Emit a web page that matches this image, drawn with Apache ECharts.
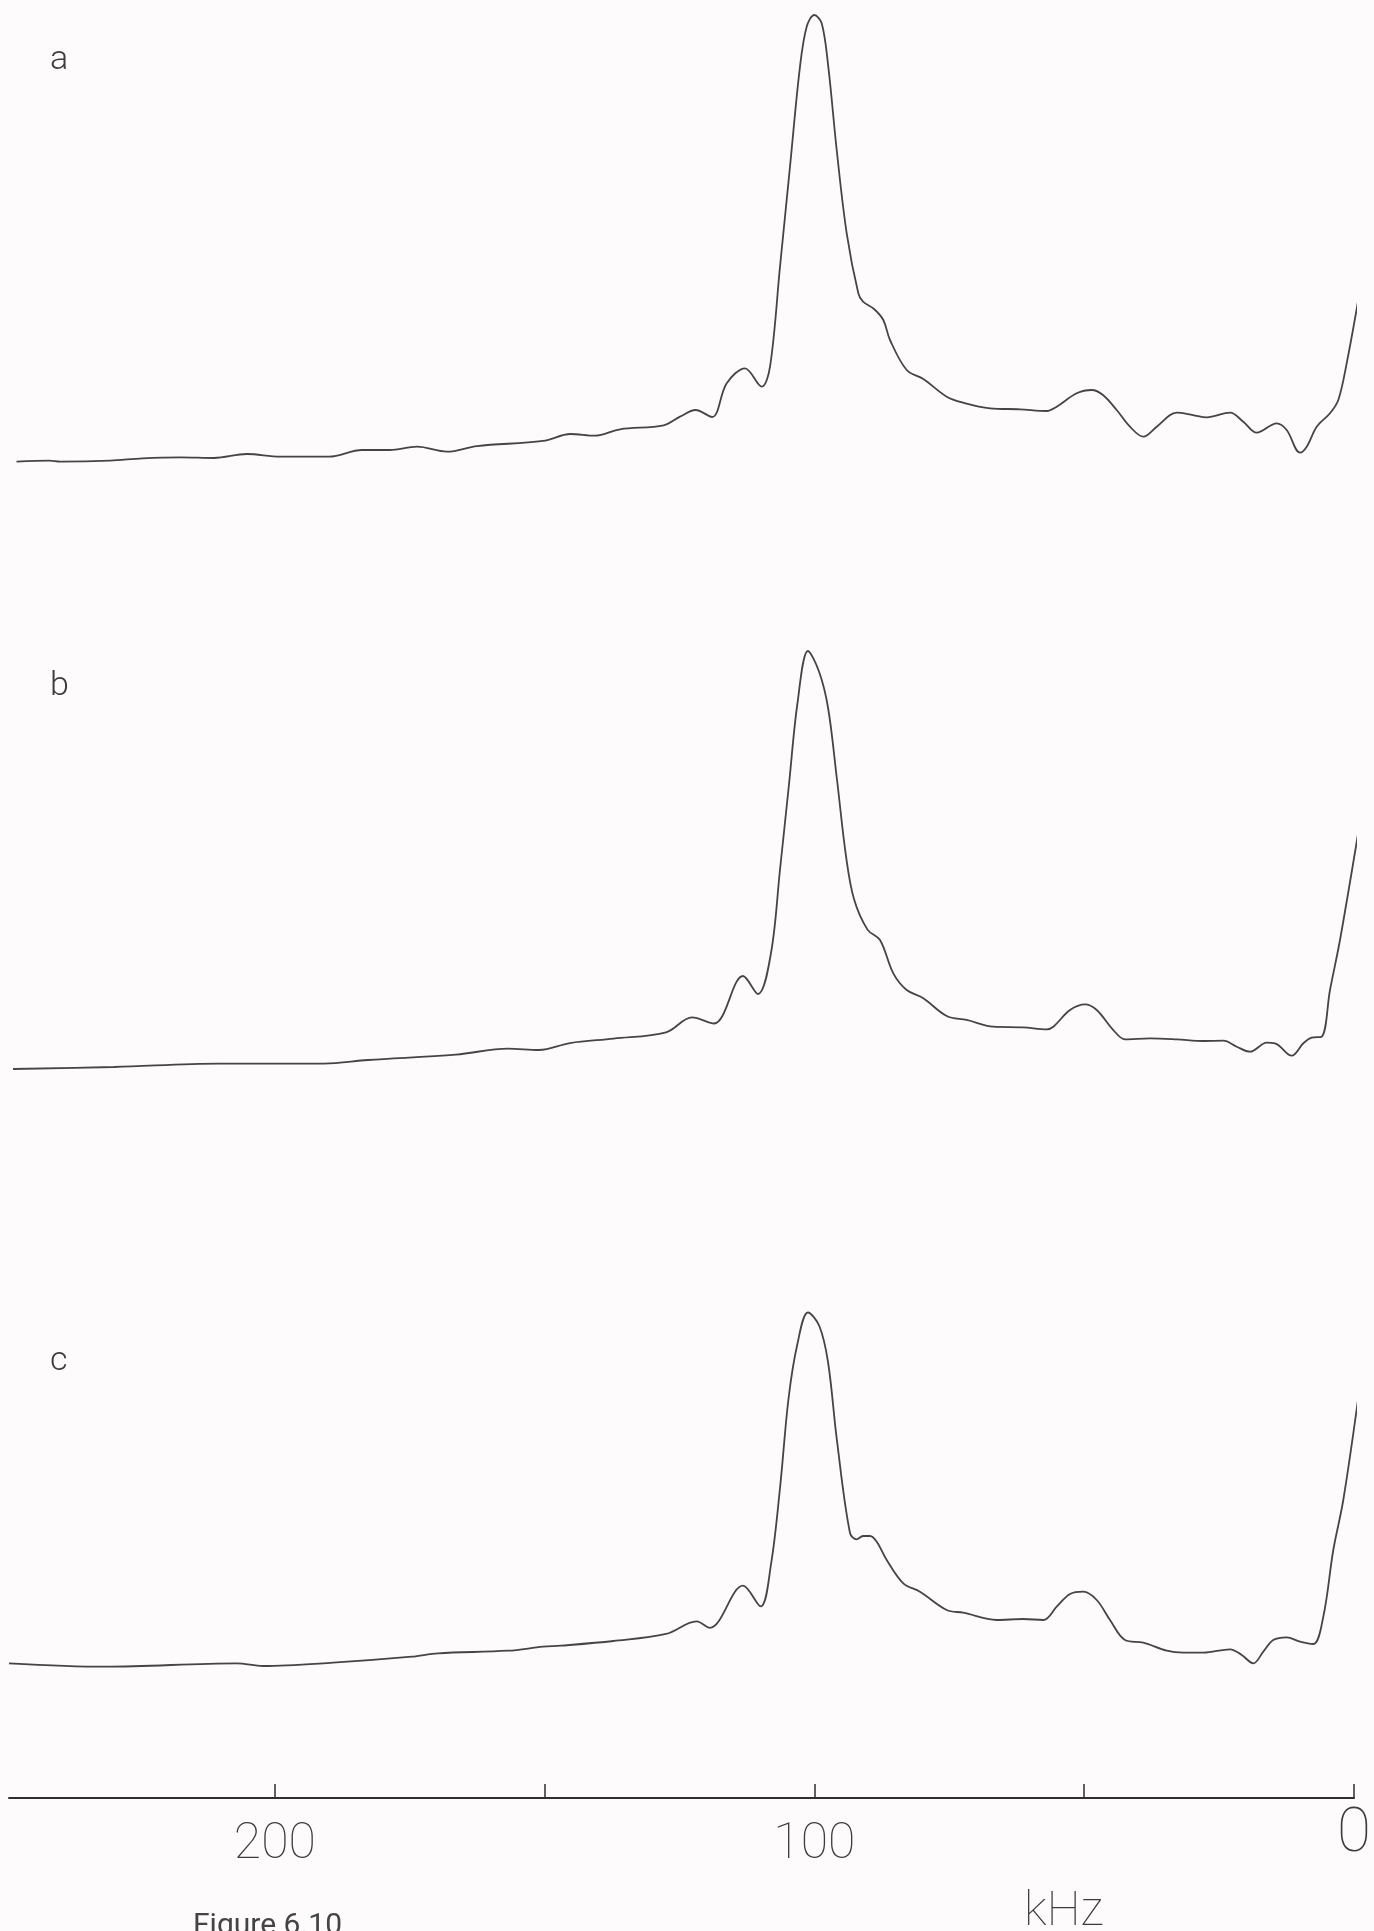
<!DOCTYPE html>
<html>
<head>
<meta charset="utf-8">
<script src="https://cdn.jsdelivr.net/npm/echarts@6/dist/echarts.min.js"></script>
<style>
  html, body { margin: 0; padding: 0; background: #fdfbfc; }
  #chart { width: 1374px; height: 1931px; }
</style>
</head>
<body>
<div id="chart"></div>
<script>
// Frequency (kHz) and relative intensity
const specA_kHz = [247.87,241.78,239.81,230.56,224.52,217.41,211.30,205.19,199.07,190.00,183.89,178.80,173.70,168.15,162.59,150.37,145.28,140.74,136.11,128.02,125.00,122.11,119.07,116.35,112.96,109.87,108.33,106.48,104.63,102.78,101.54,100.13,98.76,97.54,95.98,94.13,91.98,91.11,89.07,87.35,86.11,83.02,79.94,75.61,72.59,67.59,62.04,57.09,55.24,51.54,48.76,46.67,44.13,41.67,39.20,36.72,33.02,30.00,27.46,23.15,20.69,18.20,14.50,12.65,10.19,8.94,7.09,4.63,3.09,1.54,-0.93];
const specA_int = [0.96,1.18,0.96,1.18,1.71,1.93,1.78,2.67,2.07,2.07,3.56,3.56,4.29,3.18,4.44,5.56,7.11,6.73,8.16,9.04,10.96,12.44,10.89,18.38,21.71,17.62,22.07,44.29,66.51,88.73,97.62,100.22,98.38,88.73,70.22,51.71,38.38,36.51,34.89,32.44,28.0,21.33,19.33,15.4,14.07,12.82,12.6,12.22,13.18,16.16,16.89,15.78,12.44,8.73,6.51,8.73,11.84,11.33,10.82,11.84,9.84,7.4,9.49,8.0,2.96,4.29,8.73,11.71,14.67,22.82,39.11];

const specB_kHz = [248.52,229.81,210.37,190.93,182.78,166.48,156.85,151.11,145.37,137.31,127.59,122.78,118.70,113.33,110.56,108.15,106.48,104.81,103.24,101.30,99.26,97.59,95.93,94.26,92.78,90.28,87.96,85.50,83.02,79.94,75.61,71.91,66.98,61.43,57.09,55.87,52.78,50.00,47.83,44.76,42.59,37.96,33.02,28.09,24.39,21.91,19.44,16.35,14.81,11.72,9.57,8.02,6.17,4.63,2.78,-0.65];
const specB_int = [0.67,1.11,1.87,1.87,2.67,3.87,5.2,4.89,6.44,7.42,8.8,12.13,10.78,21.33,17.33,26.44,45.0,64.0,82.0,93.56,89.0,81.0,65.0,48.0,38.44,31.64,29.33,21.93,18.22,16.38,12.44,11.56,10.07,9.93,9.49,10.07,13.78,15.04,13.78,9.33,7.27,7.49,7.27,6.89,6.96,5.62,4.51,6.51,6.38,3.62,6.38,7.62,7.84,18.22,29.33,53.56];

const specC_kHz = [249.26,231.48,207.11,202.22,189.26,174.67,169.81,156.85,150.37,147.04,137.33,127.59,121.93,119.48,113.33,110.07,108.15,106.48,104.89,103.26,101.30,99.20,97.59,95.96,93.52,92.28,91.11,89.81,88.57,86.72,83.65,80.56,75.61,72.54,66.35,61.43,57.72,55.24,52.78,50.31,47.83,45.37,42.59,39.20,34.87,31.80,28.09,23.15,20.98,18.83,16.98,15.13,12.65,10.19,7.72,5.87,4.02,2.17,-0.65];
const specC_int = [1.04,0.29,1.04,0.44,1.18,2.51,3.27,3.84,4.73,4.96,6.0,7.56,10.36,8.91,18.29,13.69,23.04,40.0,60.0,72.0,79.0,76.0,68.0,50.82,30.0,28.6,29.33,29.33,28.07,24.0,18.82,16.96,12.89,12.29,10.67,10.89,10.67,13.62,16.44,16.96,15.11,10.67,6.22,5.62,3.84,3.4,3.4,4.16,2.89,1.04,3.62,6.22,6.82,5.84,5.33,11.4,26.22,37.33,60.44];

const panelLabels = ['a', 'b', 'c'];
const tickValues = [0, 50, 100, 150, 200];
const labelValues = [0, 100, 200];
const axisName = 'kHz';
const captionText = 'Figure 6.10';

function pairs(xs, ys) { return xs.map((x, i) => [x, ys[i]]); }

const X_MAX = 249.26;
const ink = '#3c3c3c';
const gridTops = [2.5, 608.5, 1204.5];
const grids = gridTops.map(t => ({ left: 9, right: 19, top: t, height: 477 }));
grids.push({ left: 9, right: 19, top: 1700, height: 98 });

const xAxes = [0, 1, 2].map(i => ({
  type: 'value', gridIndex: i, min: 0, max: X_MAX, inverse: true, show: false
}));
xAxes.push({
  type: 'value', gridIndex: 3, min: 0, max: X_MAX, inverse: true, interval: 50,
  axisLine: { show: true, lineStyle: { color: '#2f2f2f', width: 2 } },
  axisTick: { show: true, inside: true, length: 14, customValues: tickValues,
              lineStyle: { color: '#2f2f2f', width: 1.5 } },
  axisLabel: {
    show: true, customValues: labelValues, margin: 22,
    formatter: v => (v === 0 ? '{big|0}' : '{n|' + v + '}'),
    rich: {
      n: { fontFamily: 'Roboto', fontWeight: 100, fontSize: 50, lineHeight: 50, color: ink },
      big: { fontFamily: 'Roboto', fontWeight: 100, fontSize: 62, lineHeight: 30, color: ink }
    }
  },
  splitLine: { show: false }
});

const yAxes = [0, 1, 2].map(i => ({
  type: 'value', gridIndex: i, min: -3, max: 103, show: false
}));
yAxes.push({ type: 'value', gridIndex: 3, min: 0, max: 1, show: false });

const specs = [pairs(specA_kHz, specA_int), pairs(specB_kHz, specB_int), pairs(specC_kHz, specC_int)];
const series = specs.map((d, i) => ({
  type: 'line', xAxisIndex: i, yAxisIndex: i, data: d,
  showSymbol: false, smooth: 0.35, clip: false,
  lineStyle: { color: '#454545', width: 1.8 }
}));

const letterTops = [43, 669, 1344];
const titles = panelLabels.map((t, i) => ({
  text: t, left: 50, top: letterTops[i], padding: 0,
  textStyle: { fontFamily: 'Roboto', fontWeight: 300, fontSize: 34, color: ink }
}));
titles.push({
  text: axisName, left: 1024, top: 1889, padding: 0,
  textStyle: { fontFamily: 'Roboto', fontWeight: 100, fontSize: 48, color: ink }
});
titles.push({
  text: captionText, left: 193, top: 1911, padding: 0,
  textStyle: { fontFamily: 'Roboto', fontWeight: 400, fontSize: 30, color: '#444' }
});

const chart = echarts.init(document.getElementById('chart'), null, { renderer: 'canvas' });
chart.setOption({
  backgroundColor: '#fdfbfc',
  animation: false,
  title: titles,
  grid: grids,
  xAxis: xAxes,
  yAxis: yAxes,
  series: series
});
</script>
</body>
</html>
